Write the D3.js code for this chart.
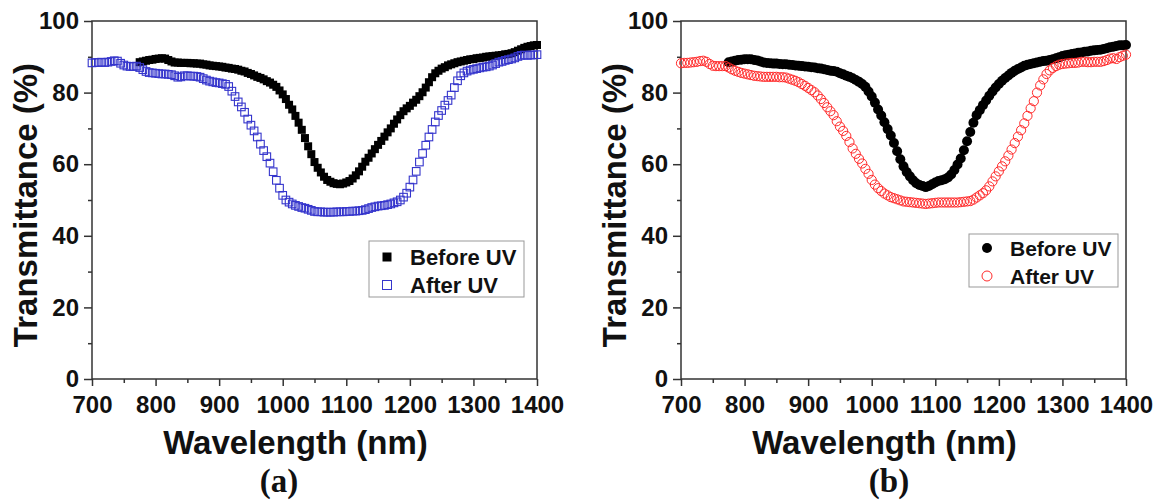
<!DOCTYPE html>
<html>
<head>
<meta charset="utf-8">
<script src="https://cdn.jsdelivr.net/npm/d3@7"></script>
<style>
  body { margin: 0; background: #fff; }
  svg { display: block; }
</style>
</head>
<body>
<svg></svg>
<script>
// wavelength grid (nm) of the plotted spectra, one row per 100 nm
const wavelengths = [
  700,705,710,715,720,725,730,735,740,745,750,755,760,765,770,775,780,785,790,795,
  800,805,810,815,820,825,830,835,840,845,850,855,860,865,870,875,880,885,890,895,
  900,905,910,915,920,925,930,935,940,945,950,955,960,965,970,975,980,985,990,995,
  1000,1005,1010,1015,1020,1025,1030,1035,1040,1045,1050,1055,1060,1065,1070,1075,1080,1085,1090,1095,
  1100,1105,1110,1115,1120,1125,1130,1135,1140,1145,1150,1155,1160,1165,1170,1175,1180,1185,1190,1195,
  1200,1205,1210,1215,1220,1225,1230,1235,1240,1245,1250,1255,1260,1265,1270,1275,1280,1285,1290,1295,
  1300,1305,1310,1315,1320,1325,1330,1335,1340,1345,1350,1355,1360,1365,1370,1375,1380,1385,1390,1395,
  1400]

// "Before UV" curves start at 775 nm (index 15 of the grid)
const beforeStart = 15

// panel (a)
const beforeA = [
  88.5,88.7,88.9,89.1,89.2,
  89.4,89.5,89.6,89.5,89.1,88.7,88.4,88.4,88.3,88.3,88.3,88.2,88.2,88.1,88.1,87.9,87.8,87.6,87.5,87.4,
  87.3,87.2,87.0,86.9,86.7,86.6,86.4,86.1,85.9,85.5,85.2,84.8,84.4,84.1,83.7,83.2,82.8,82.2,81.6,80.6,
  79.5,78.2,76.6,75.3,73.5,71.6,69.6,67.3,65.0,62.8,60.6,59.0,57.7,56.5,55.6,55.1,54.7,54.5,54.4,54.6,
  54.9,55.3,56.0,56.9,58.0,59.3,60.7,61.8,63.0,64.2,65.4,66.5,67.7,68.9,70.0,71.3,72.5,73.7,74.8,75.6,
  76.3,77.2,78.0,79.0,80.1,81.4,82.9,84.3,85.4,86.1,86.7,87.1,87.6,87.9,88.2,88.5,88.7,88.9,89.1,89.3,
  89.4,89.6,89.7,89.8,90.0,90.1,90.2,90.3,90.4,90.5,90.7,90.8,91.0,91.3,91.7,92.1,92.5,92.8,93.0,93.2,
  93.3]
const afterA = [
  88.3,88.4,88.4,88.5,88.4,88.5,88.7,88.9,88.8,88.2,87.7,87.4,87.3,87.3,87.4,87.0,86.4,85.9,85.6,85.5,
  85.4,85.3,85.2,85.2,85.1,85.0,84.7,84.3,84.4,84.7,84.7,84.6,84.6,84.5,84.3,83.9,83.5,83.2,83.0,82.8,
  82.7,82.5,82.3,81.7,80.4,78.9,77.4,76.0,74.5,72.6,70.9,69.3,67.6,65.6,63.8,62.1,60.3,57.9,55.5,53.3,
  51.3,50.0,49.4,48.9,48.5,48.2,47.9,47.7,47.4,47.1,46.8,46.7,46.7,46.6,46.6,46.6,46.6,46.7,46.7,46.7,
  46.8,46.8,46.9,46.9,47.0,47.1,47.3,47.6,47.9,48.1,48.3,48.4,48.5,48.7,48.9,49.2,49.5,50.0,50.8,51.9,
  53.6,55.6,58.0,60.6,63.0,65.3,67.6,69.7,71.8,73.6,75.0,76.5,77.8,79.3,81.4,83.3,84.7,85.5,86.0,86.3,
  86.5,86.7,86.9,87.1,87.2,87.4,87.7,88.1,88.5,88.7,89.0,89.2,89.4,89.7,90.1,90.4,90.5,90.4,90.5,90.5,
  90.6]

// panel (b)
const beforeB = [
  88.5,88.7,88.9,89.1,89.2,
  89.3,89.3,89.3,89.1,89.0,88.7,88.4,88.3,88.2,88.1,88.1,88.0,87.9,87.9,87.8,87.7,87.6,87.5,87.4,87.3,
  87.2,87.1,87.0,86.8,86.7,86.5,86.3,86.1,86.0,85.8,85.4,85.1,84.7,84.4,84.0,83.5,83.0,82.4,81.6,80.3,
  78.9,77.2,75.3,73.6,71.7,69.8,68.0,65.9,63.6,61.4,59.4,57.8,56.6,55.5,54.7,54.2,53.9,53.6,53.9,54.4,
  54.9,55.3,55.5,55.8,56.3,57.1,58.4,59.9,61.6,63.9,66.4,69.0,71.6,73.7,75.1,76.5,77.8,79.1,80.3,81.4,
  82.4,83.3,84.1,84.8,85.5,86.1,86.6,87.0,87.5,87.8,88.0,88.2,88.4,88.6,88.8,88.9,89.1,89.3,89.6,89.9,
  90.2,90.4,90.6,90.8,90.9,91.1,91.2,91.4,91.5,91.7,91.8,91.9,92.0,92.2,92.4,92.7,92.8,93.0,93.2,93.2,
  93.3]
const afterB = [
  88.2,88.3,88.3,88.4,88.5,88.6,88.8,88.9,88.6,88.0,87.5,87.4,87.4,87.4,87.4,87.0,86.5,86.1,85.8,85.5,
  85.3,85.1,84.9,84.7,84.6,84.5,84.4,84.4,84.4,84.4,84.4,84.3,84.3,84.2,83.9,83.6,83.3,82.9,82.4,81.9,
  81.3,80.7,80.1,79.2,78.2,77.1,75.9,74.8,73.7,72.0,70.5,69.3,67.9,66.2,64.4,62.9,61.5,60.2,58.7,57.3,
  55.6,54.3,53.3,52.5,51.8,51.3,50.8,50.5,50.2,49.9,49.6,49.5,49.4,49.3,49.2,49.1,49.0,48.9,49.0,49.1,
  49.2,49.3,49.3,49.3,49.3,49.3,49.3,49.3,49.4,49.5,49.6,49.7,50.1,50.7,51.3,51.9,52.7,53.8,55.2,56.6,
  58.0,59.4,60.8,62.4,64.1,65.9,67.7,69.5,71.4,73.5,75.6,77.6,80.0,82.0,83.7,85.2,86.2,86.9,87.4,87.8,
  88.0,88.1,88.2,88.3,88.3,88.4,88.6,88.6,88.5,88.5,88.6,88.6,88.6,88.8,89.1,89.5,89.6,89.4,89.9,90.3,
  90.6]

const xTicks = [700, 800, 900, 1000, 1100, 1200, 1300, 1400]
const xMinorTicks = [750, 850, 950, 1050, 1150, 1250, 1350]
const yTicks = [0, 20, 40, 60, 80, 100]
const yMinorTicks = [10, 30, 50, 70, 90]
const seriesNames = ["Before UV", "After UV"]
const panelLabels = ["(a)", "(b)"]

const svg = d3.select("svg").attr("width", 1163).attr("height", 500)
const sans = "'Liberation Sans', Arial, sans-serif"

function drawPanel(p) {
    const width = 445
    const height = 358
    const g = svg.append("g").attr("transform", "translate(" + p.left + "," + 21 + ")")

    const xScale = d3.scaleLinear().domain([700, 1400]).range([0, width])
    const yScale = d3.scaleLinear().domain([0, 100]).range([height, 0])

    // minor ticks
    g.append("g")
        .attr("transform", "translate(0," + height + ")")
        .call(d3.axisBottom(xScale).tickValues(xMinorTicks).tickSize(4).tickFormat(""))
    g.append("g")
        .call(d3.axisLeft(yScale).tickValues(yMinorTicks).tickSize(4).tickFormat(""))

    // major ticks + labels
    g.append("g")
        .attr("transform", "translate(0," + height + ")")
        .call(d3.axisBottom(xScale).tickValues(xTicks).tickSize(7).tickPadding(10).tickFormat(d3.format("d")))
    g.append("g")
        .call(d3.axisLeft(yScale).tickValues(yTicks).tickSize(8).tickPadding(5))

    g.selectAll(".domain").remove()
    g.selectAll(".tick line").attr("stroke", "#333").attr("stroke-width", 1.5)
    g.selectAll(".tick text")
        .style("font-family", sans)
        .style("font-weight", "bold")
        .style("font-size", "24px")
        .attr("fill", "#111")

    // frame
    g.append("rect")
        .attr("width", width)
        .attr("height", height)
        .attr("fill", "none")
        .attr("stroke", "#333")
        .attr("stroke-width", 1.5)

    const before = p.before.map((v, i) => ({ x: wavelengths[i + beforeStart], y: v }))
    const after = p.after.map((v, i) => ({ x: wavelengths[i], y: v }))

    const plot = g.append("g")
    if (p.shape === "square") {
        const s = 8
        plot.selectAll(".before").data(before).enter().append("rect")
            .attr("x", d => xScale(d.x) - s / 2)
            .attr("y", d => yScale(d.y) - s / 2)
            .attr("width", s).attr("height", s)
            .attr("fill", "#000")
        plot.selectAll(".after").data(after).enter().append("rect")
            .attr("x", d => xScale(d.x) - 3.8)
            .attr("y", d => yScale(d.y) - 3.8)
            .attr("width", 7.6).attr("height", 7.6)
            .attr("fill", "none")
            .attr("stroke", p.color)
            .attr("stroke-width", 1.1)
    } else {
        plot.selectAll(".before").data(before).enter().append("circle")
            .attr("cx", d => xScale(d.x))
            .attr("cy", d => yScale(d.y))
            .attr("r", 5)
            .attr("fill", "#000")
        plot.selectAll(".after").data(after).enter().append("circle")
            .attr("cx", d => xScale(d.x))
            .attr("cy", d => yScale(d.y))
            .attr("r", 4.6)
            .attr("fill", "none")
            .attr("stroke", p.color)
            .attr("stroke-width", 1)
    }

    // legend
    const lg = g.append("g").attr("transform", "translate(" + p.legend[0] + "," + p.legend[1] + ")")
    lg.append("rect")
        .attr("width", p.legend[2]).attr("height", p.legend[3])
        .attr("fill", "#fff").attr("stroke", "#999").attr("stroke-width", 1)
    seriesNames.forEach((name, i) => {
        const cy = p.legendRows[i]
        if (p.shape === "square") {
            lg.append("rect")
                .attr("x", 18 - 4.5).attr("y", cy - 4.5).attr("width", 9).attr("height", 9)
                .attr("fill", i === 0 ? "#000" : "none")
                .attr("stroke", i === 0 ? "none" : p.color)
        } else {
            lg.append("circle")
                .attr("cx", 18).attr("cy", cy).attr("r", 5)
                .attr("fill", i === 0 ? "#000" : "none")
                .attr("stroke", i === 0 ? "none" : p.color)
        }
        lg.append("text")
            .attr("x", 41).attr("y", cy)
            .attr("dy", "0.36em")
            .style("font-family", sans)
            .style("font-weight", "bold")
            .style("font-size", p.legendFont + "px")
            .attr("fill", "#111")
            .text(name)
    })

    // axis titles
    g.append("text")
        .attr("x", width / 2 - 19).attr("y", 433)
        .attr("text-anchor", "middle")
        .style("font-family", sans).style("font-weight", "bold").style("font-size", "33px")
        .attr("fill", "#111")
        .text("Wavelength (nm)")
    g.append("text")
        .attr("transform", "translate(-55," + 184 + ") rotate(-90)")
        .attr("text-anchor", "middle")
        .style("font-family", sans).style("font-weight", "bold").style("font-size", "33px")
        .attr("fill", "#111")
        .text("Transmittance (%)")

    svg.append("text")
        .attr("x", p.labelX).attr("y", 492)
        .attr("text-anchor", "middle")
        .style("font-family", "'Liberation Serif', 'Times New Roman', serif")
        .style("font-weight", "bold").style("font-size", "33px")
        .attr("fill", "#111")
        .text(p.label)
}

drawPanel({ left: 92, before: beforeA, after: afterA, shape: "square", color: "#3535cc",
    legend: [277, 220, 155, 56], legendRows: [16, 44], legendFont: 22, label: panelLabels[0], labelX: 279 })
drawPanel({ left: 681, before: beforeB, after: afterB, shape: "circle", color: "#ff2a2a",
    legend: [288, 213, 149, 53], legendRows: [14, 42], legendFont: 21, label: panelLabels[1], labelX: 889 })
</script>
</body>
</html>
